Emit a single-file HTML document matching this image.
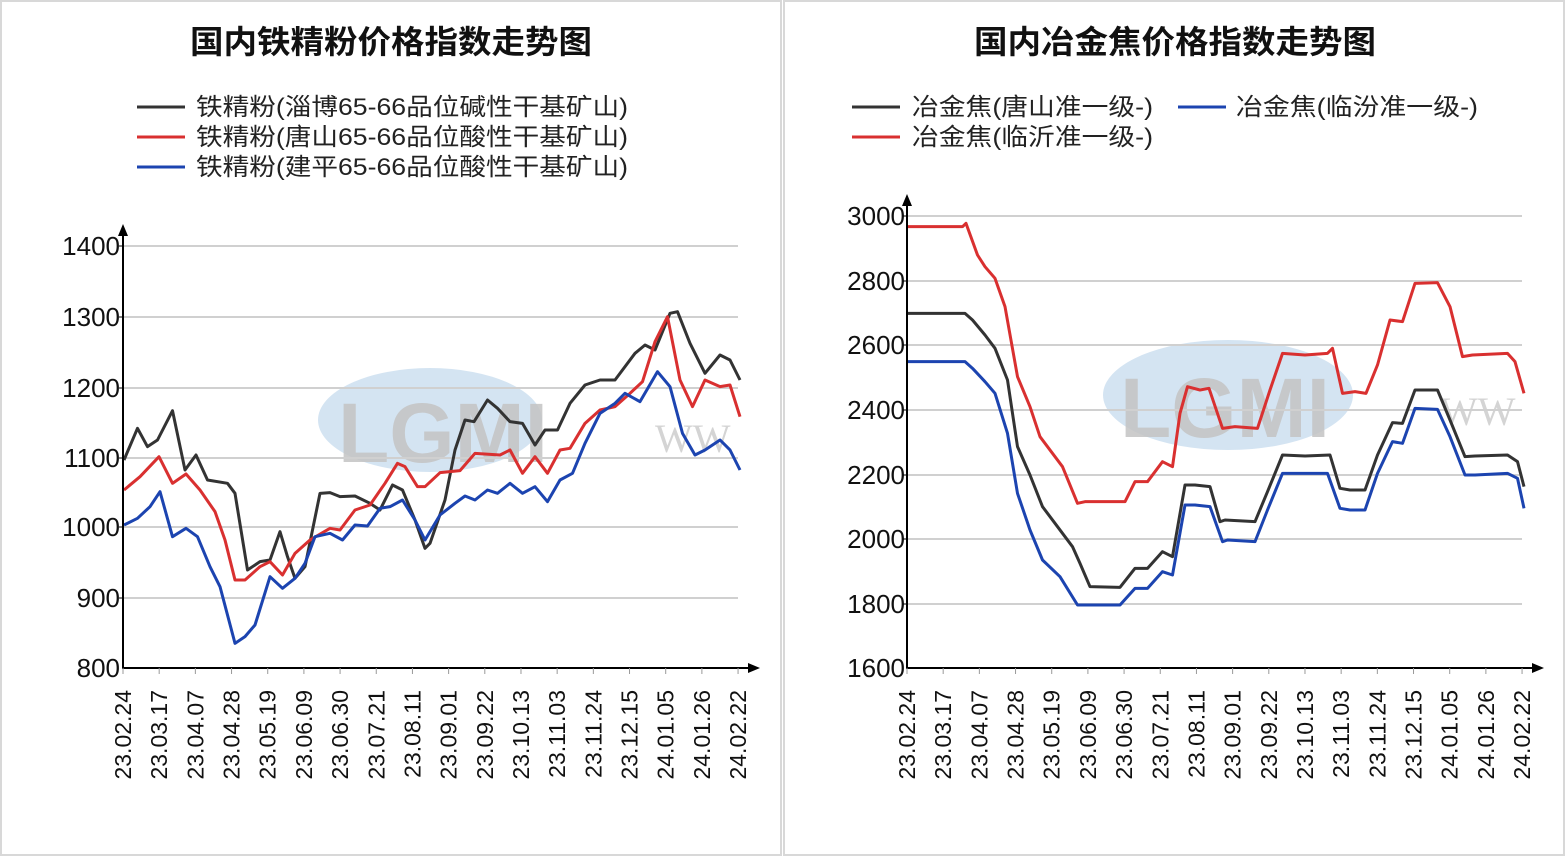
<!DOCTYPE html>
<html><head><meta charset="utf-8"><style>
html,body{margin:0;padding:0;background:#fff;}
svg{display:block;font-family:"Liberation Sans","Noto Sans CJK SC",sans-serif;}
</style></head><body>
<svg width="1566" height="857" viewBox="0 0 1566 857" xmlns="http://www.w3.org/2000/svg">
<rect x="0" y="0" width="1566" height="857" fill="#fff"/>
<rect x="1" y="1" width="780" height="854" fill="none" stroke="#d8d8d8" stroke-width="2"/>
<rect x="784" y="1" width="780" height="854" fill="none" stroke="#d8d8d8" stroke-width="2"/>

<!-- watermarks -->
<ellipse cx="430" cy="420" rx="112" ry="52" fill="#cddff0" opacity="0.85"/>
<text x="338" y="462" font-size="84" font-weight="bold" fill="#c4c4c4" opacity="0.85" font-family="Liberation Sans,sans-serif">LGMI</text>
<text x="655" y="452" font-size="40" fill="#d4d4d4" font-family="Liberation Serif,serif">WW</text>
<ellipse cx="1228" cy="395" rx="125" ry="55" fill="#cddff0" opacity="0.85"/>
<text x="1120" y="437" font-size="84" font-weight="bold" fill="#c4c4c4" opacity="0.85" font-family="Liberation Sans,sans-serif">LGMI</text>
<text x="1440" y="425" font-size="40" fill="#d4d4d4" font-family="Liberation Serif,serif">WW</text>

<!-- titles -->
<text x="190" y="53" textLength="402" lengthAdjust="spacingAndGlyphs" font-size="32" font-weight="bold" fill="#111">国内铁精粉价格指数走势图</text>
<text x="974" y="53" textLength="402" lengthAdjust="spacingAndGlyphs" font-size="32" font-weight="bold" fill="#111">国内冶金焦价格指数走势图</text>

<!-- legends -->
<g font-size="24" fill="#222">
<line x1="137" y1="107" x2="185" y2="107" stroke="#333" stroke-width="3"/>
<text x="196" y="115" textLength="432" lengthAdjust="spacingAndGlyphs">铁精粉(淄博65-66品位碱性干基矿山)</text>
<line x1="137" y1="137" x2="185" y2="137" stroke="#d93030" stroke-width="3"/>
<text x="196" y="145" textLength="432" lengthAdjust="spacingAndGlyphs">铁精粉(唐山65-66品位酸性干基矿山)</text>
<line x1="137" y1="167" x2="185" y2="167" stroke="#1c44b0" stroke-width="3"/>
<text x="196" y="175" textLength="432" lengthAdjust="spacingAndGlyphs">铁精粉(建平65-66品位酸性干基矿山)</text>
<line x1="852" y1="107" x2="900" y2="107" stroke="#333" stroke-width="3"/>
<text x="912" y="115" textLength="241" lengthAdjust="spacingAndGlyphs">冶金焦(唐山准一级-)</text>
<line x1="1178" y1="107" x2="1226" y2="107" stroke="#1c44b0" stroke-width="3"/>
<text x="1236" y="115" textLength="242" lengthAdjust="spacingAndGlyphs">冶金焦(临汾准一级-)</text>
<line x1="852" y1="137" x2="900" y2="137" stroke="#d93030" stroke-width="3"/>
<text x="912" y="145" textLength="241" lengthAdjust="spacingAndGlyphs">冶金焦(临沂准一级-)</text>
</g>

<!-- left grid -->
<g stroke="#d0d0d0" stroke-width="2">
<line x1="123" y1="246" x2="738" y2="246"/><line x1="123" y1="317" x2="738" y2="317"/>
<line x1="123" y1="388" x2="738" y2="388"/><line x1="123" y1="458" x2="738" y2="458"/>
<line x1="123" y1="527" x2="738" y2="527"/><line x1="123" y1="598" x2="738" y2="598"/>
</g>
<g font-size="26" fill="#111" text-anchor="end">
<text x="120" y="255">1400</text><text x="120" y="326">1300</text><text x="120" y="397">1200</text>
<text x="120" y="467">1100</text><text x="120" y="536">1000</text><text x="120" y="607">900</text><text x="120" y="677">800</text>
</g>
<!-- right grid -->
<g stroke="#d0d0d0" stroke-width="2">
<line x1="907" y1="216" x2="1522" y2="216"/><line x1="907" y1="281" x2="1522" y2="281"/>
<line x1="907" y1="345" x2="1522" y2="345"/><line x1="907" y1="410" x2="1522" y2="410"/>
<line x1="907" y1="475" x2="1522" y2="475"/><line x1="907" y1="539" x2="1522" y2="539"/>
<line x1="907" y1="604" x2="1522" y2="604"/>
</g>
<g font-size="26" fill="#111" text-anchor="end">
<text x="905" y="225">3000</text><text x="905" y="290">2800</text><text x="905" y="354">2600</text>
<text x="905" y="419">2400</text><text x="905" y="484">2200</text><text x="905" y="548">2000</text>
<text x="905" y="613">1800</text><text x="905" y="677">1600</text>
</g>

<!-- left series -->
<g transform="translate(0,200) scale(0.5,0.33333)" fill="none" stroke-linejoin="round">
<polyline vector-effect="non-scaling-stroke" stroke="#333" stroke-width="3" points="248,780 275,685 295,740 315,720 345,632 370,810 392,765 415,840 455,850 470,880 495,1110 520,1085 540,1080 560,995 575,1070 590,1135 610,1100 640,880 660,878 680,890 710,888 740,910 760,930 785,855 805,870 830,960 850,1045 860,1030 890,900 910,750 930,660 948,665 975,600 995,625 1020,665 1045,670 1070,735 1090,690 1115,690 1140,610 1170,555 1200,540 1230,540 1270,460 1290,435 1310,450 1340,340 1355,335 1380,430 1410,520 1440,465 1460,480 1480,540"/>
<polyline vector-effect="non-scaling-stroke" stroke="#d93030" stroke-width="3" points="248,870 280,830 318,770 345,850 372,822 400,870 430,935 450,1020 470,1140 490,1140 520,1100 540,1085 565,1125 590,1060 620,1020 660,985 680,990 710,930 740,915 770,850 795,790 810,800 835,860 850,860 880,818 920,812 950,760 1000,765 1020,750 1045,820 1070,770 1095,820 1120,750 1140,745 1170,670 1200,630 1230,620 1260,580 1285,545 1310,425 1335,350 1360,540 1385,620 1410,540 1440,560 1460,555 1480,650"/>
<polyline vector-effect="non-scaling-stroke" stroke="#1c44b0" stroke-width="3" points="248,975 275,955 300,920 320,875 345,1010 372,985 395,1010 420,1100 440,1160 470,1330 490,1310 510,1275 540,1130 565,1165 590,1135 610,1090 630,1010 660,1000 685,1020 710,975 735,978 760,925 780,920 805,900 830,960 850,1020 880,945 910,910 930,888 950,900 975,870 995,880 1020,850 1045,880 1070,860 1095,905 1120,840 1145,820 1170,730 1200,640 1230,610 1250,580 1280,605 1315,515 1340,560 1365,700 1390,765 1410,750 1440,720 1460,750 1480,810"/>
</g>
<!-- right series -->
<g transform="translate(785,180) scale(0.5,0.33333)" fill="none" stroke-linejoin="round">
<polyline vector-effect="non-scaling-stroke" stroke="#d93030" stroke-width="3" points="245,140 355,140 362,130 385,225 400,260 420,295 440,380 465,590 490,680 510,770 555,860 585,970 600,965 680,965 700,905 725,905 755,845 775,860 790,700 805,620 830,630 848,625 875,745 900,740 945,745 970,630 995,520 1040,525 1085,520 1095,505 1115,640 1140,635 1162,640 1185,555 1210,420 1235,425 1260,310 1305,308 1330,380 1355,530 1375,525 1445,520 1460,545 1478,640"/>
<polyline vector-effect="non-scaling-stroke" stroke="#333" stroke-width="3" points="245,400 360,400 375,420 400,465 420,505 445,600 465,800 490,885 515,980 540,1030 575,1100 590,1150 610,1220 670,1222 700,1165 725,1165 755,1115 775,1130 800,915 820,915 850,920 870,1025 880,1020 940,1025 965,935 995,825 1040,828 1090,825 1110,925 1130,930 1160,930 1185,825 1215,728 1235,730 1260,630 1305,630 1330,720 1360,830 1380,828 1445,825 1465,845 1478,920"/>
<polyline vector-effect="non-scaling-stroke" stroke="#1c44b0" stroke-width="3" points="245,545 360,545 375,565 400,605 420,640 445,760 465,940 490,1050 515,1140 550,1190 585,1275 670,1275 700,1225 725,1225 755,1175 775,1185 800,975 820,975 850,980 875,1085 885,1080 940,1085 965,990 995,880 1085,880 1110,985 1130,990 1160,990 1185,880 1215,785 1235,790 1260,685 1305,688 1330,770 1360,885 1380,885 1445,880 1465,895 1478,985"/>
</g>

<!-- axes -->
<g stroke="#000" stroke-width="2">
<line x1="123" y1="232" x2="123" y2="669"/><line x1="122" y1="668" x2="752" y2="668"/>
<line x1="907" y1="202" x2="907" y2="669"/><line x1="906" y1="668" x2="1536" y2="668"/>
</g>
<polygon points="123,224 118,236 128,236" fill="#000"/>
<polygon points="760,668 748,663 748,673" fill="#000"/>
<polygon points="907,194 902,206 912,206" fill="#000"/>
<polygon points="1544,668 1532,663 1532,673" fill="#000"/>
<g stroke="#000" stroke-width="1">
<line x1="119" y1="246" x2="123" y2="246"/><line x1="119" y1="317" x2="123" y2="317"/><line x1="119" y1="388" x2="123" y2="388"/><line x1="119" y1="458" x2="123" y2="458"/><line x1="119" y1="527" x2="123" y2="527"/><line x1="119" y1="598" x2="123" y2="598"/>
<line x1="903" y1="216" x2="907" y2="216"/><line x1="903" y1="281" x2="907" y2="281"/><line x1="903" y1="345" x2="907" y2="345"/><line x1="903" y1="410" x2="907" y2="410"/><line x1="903" y1="475" x2="907" y2="475"/><line x1="903" y1="539" x2="907" y2="539"/><line x1="903" y1="604" x2="907" y2="604"/>
</g>
<g id="xt" stroke="#999" stroke-width="1"></g>
<g id="xl" font-size="23" fill="#111"></g>
<script>
var labs=["23.02.24","23.03.17","23.04.07","23.04.28","23.05.19","23.06.09","23.06.30","23.07.21","23.08.11","23.09.01","23.09.22","23.10.13","23.11.03","23.11.24","23.12.15","24.01.05","24.01.26","24.02.22"];
var ns="http://www.w3.org/2000/svg",xl=document.getElementById("xl"),xt=document.getElementById("xt");
[123,907].forEach(function(x0){
 labs.forEach(function(s,i){
  var x=x0+i*36.18;
  var t=document.createElementNS(ns,"text");
  t.setAttribute("transform","translate("+(x+8)+",690) rotate(-90)");
  t.setAttribute("text-anchor","end");t.textContent=s;xl.appendChild(t);
  var l=document.createElementNS(ns,"line");
  l.setAttribute("x1",x);l.setAttribute("x2",x);l.setAttribute("y1",668);l.setAttribute("y2",674);xt.appendChild(l);
 });
});
</script>
</svg>
</body></html>
